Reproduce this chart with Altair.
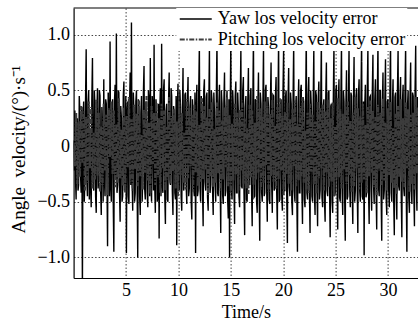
import altair as alt
import pandas as pd

YAW_STEP = 0.06    # s between yaw samples
PITCH_STEP = 0.12  # s between pitching samples

yaw = [
    0.05, -0.22, 0.32, -0.3, -0.48, 0.18, 0.25, -0.4, -0.35, 0.45, 0.3, -0.25, -0.42, 0.35, -1.3, 0.2, 0.4, -0.5, -0.3, 0.42,
    0.87, -0.3, -0.45, 0.38, 0.5, -0.48, 0.12, -0.35, -0.55, 0.42, 0.79, -0.28, -0.4, 0.5, 0.35, -0.45, -0.6, 0.3, 0.52, -0.38,
    -0.3, 0.5, 0.45, -0.4, -0.62, 0.35, 0.2, -0.5, 0.6, -0.3, -0.45, 0.42, 0.38, -0.25, -0.9, 0.48, 0.3, -0.45, 0.94, -0.35,
    -0.5, 0.3, 0.42, -0.48, -0.95, 0.4, 0.55, -0.3, 1.01, -0.42, -0.35, 0.5, 0.48, -0.4, -0.68, 0.36, 0.25, -0.5, -0.45, 0.45,
    0.58, -0.4, -0.3, 0.45, -0.96, 0.3, 0.4, -0.45, -0.52, 0.38, 0.66, -0.35, 1.11, -0.3, -0.58, 0.48, 0.3, -0.5, -0.42, 0.4,
    0.5, -0.35, -1.0, 0.42, 0.35, -0.45, -0.62, 0.3, 0.45, -0.5, -0.3, 0.48, 0.72, -0.38, -0.48, 0.4, 0.2, -0.42, -0.55, 0.5,
    0.4, -0.45, 0.79, -0.3, -0.5, 0.45, 0.35, -0.4, 0.91, -0.35, -0.6, 0.42, 0.28, -0.5, -0.45, 0.38, -0.83, 0.3, 0.52, -0.45,
    0.92, -0.35, -0.42, 0.5, 0.6, -0.45, -0.7, 0.32, 0.38, -0.48, -0.5, 0.4, 0.66, -0.3, -0.35, 0.52, 0.45, -0.4, -0.62, 0.36,
    0.3, -0.42, -0.48, 0.45, -0.89, 0.35, 0.56, -0.38, -0.4, 0.5, 0.35, -0.45, -0.58, 0.3, 0.7, -0.4, -0.3, 0.46, 0.48, -0.35,
    -0.52, 0.4, 0.62, -0.45, -0.38, 0.35, 0.45, -0.5, -0.66, 0.42, 0.3, -0.38, -0.45, 0.48, -0.96, 0.32, 0.55, -0.45, -0.4, 0.5,
    0.9, -0.38, -0.5, 0.45, 0.35, -0.4, -0.72, 0.5, 0.6, -0.32, -0.4, 0.44, 0.48, -0.46, -0.58, 0.36, 0.88, -0.42, -0.35, 0.5,
    0.42, -0.4, -0.62, 0.48, 0.3, -0.35, -0.5, 0.45, 0.95, -0.42, -0.45, 0.38, 0.55, -0.3, -0.78, 0.5, 0.38, -0.44, -0.52, 0.4,
    0.66, -0.45, -0.4, 0.36, 0.5, -0.48, -0.65, 0.42, -1.0, 0.3, 0.92, -0.4, -0.48, 0.5, 0.35, -0.38, -0.7, 0.45, 0.58, -0.42,
    -0.42, 0.48, 0.3, -0.45, -0.55, 0.4, 0.87, -0.36, -0.38, 0.5, 0.62, -0.42, -0.8, 0.35, 0.45, -0.48, -0.5, 0.4, 0.7, -0.32,
    -0.35, 0.45, 0.52, -0.4, -0.72, 0.38, 0.98, -0.46, -0.45, 0.42, 0.4, -0.5, -0.6, 0.35, 0.66, -0.38, -0.85, 0.48, 0.38, -0.42,
    -0.5, 0.36, 0.9, -0.45, -0.42, 0.5, 0.55, -0.38, -0.68, 0.44, 0.35, -0.48, -0.52, 0.4, 0.75, -0.35, -0.6, 0.46, 0.45, -0.4,
    -0.38, 0.45, 0.62, -0.42, -0.75, 0.38, 0.95, -0.5, -0.48, 0.36, 0.42, -0.45, -0.58, 0.5, 0.88, -0.4, -0.4, 0.44, 0.5, -0.48,
    -0.87, 0.4, 0.7, -0.36, -0.45, 0.48, 0.38, -0.5, -0.62, 0.42, 0.92, -0.4, -0.5, 0.35, 0.45, -0.46, -0.95, 0.38, 0.6, -0.42,
    -0.42, 0.5, 0.55, -0.38, -0.7, 0.44, 0.4, -0.48, -0.55, 0.36, 1.0, -0.42, -0.48, 0.46, 0.62, -0.4, -0.78, 0.5, 0.35, -0.45,
    -0.5, 0.38, 0.88, -0.44, -0.62, 0.5, 0.45, -0.36, -0.72, 0.42, 0.58, -0.48, -0.4, 0.4, 0.95, -0.46, -0.55, 0.35, 0.42, -0.5,
    -0.68, 0.44, 0.75, -0.4, -0.45, 0.48, 0.5, -0.38, -0.82, 0.36, 0.38, -0.5, -0.6, 0.42, 0.9, -0.45, -0.42, 0.5, 0.55, -0.36,
    -0.75, 0.42, 0.6, -0.46, -0.5, 0.38, 0.92, -0.4, -0.62, 0.5, 0.4, -0.44, -0.85, 0.36, 0.68, -0.48, -0.45, 0.4, 0.88, -0.38,
    -0.55, 0.48, 0.45, -0.42, -0.7, 0.36, 0.8, -0.5, -0.4, 0.44, 0.52, -0.38, -0.78, 0.46, 0.6, -0.4, -0.5, 0.42, 0.96, -0.45,
    -0.48, 0.4, -0.98, 0.36, 0.55, -0.46, -0.42, 0.5, 0.88, -0.38, -0.7, 0.44, 0.45, -0.4, -0.58, 0.48, 0.82, -0.35, -0.52, 0.42,
    0.6, -0.4, -0.75, 0.45, 0.92, -0.38, -0.45, 0.5, 0.5, -0.44, -0.85, 0.36, 0.66, -0.48, -0.4, 0.42, 0.78, -0.46, -0.62, 0.4,
    0.42, -0.38, -0.55, 0.46, 0.95, -0.42, -0.5, 0.36, 0.6, -0.48, -0.8, 0.44, 0.48, -0.4, -0.66, 0.5, 0.87, -0.36, -0.4, 0.45,
    0.62, -0.44, -0.82, 0.4, 0.55, -0.38, -0.45, 0.5, 0.9, -0.42, -0.95, 0.36, 0.5, -0.46, -0.6, 0.44, 0.75, -0.4, -0.52, 0.48,
    0.45, -0.4, -0.72, 0.5, 0.9, -0.36, -0.58, 0.44, 0.4, -0.48, -0.66, 0.38, 0.8, -0.42, -0.45, 0.46, 0.6, -0.5, -0.62, 0.4,
]

pitch = [
    0.02, -0.18, 0.3, -0.34, 0.22, -0.28, 0.36, -0.15, 0.31, -0.4,
    0.26, -0.33, 0.4, -0.2, 0.35, -0.38, 0.12, -0.3, 0.42, -0.27,
    0.3, -0.41, 0.18, -0.35, 0.38, -0.22, 0.28, -0.44, 0.34, -0.1,
    0.4, -0.25, 0.32, -0.37, 0.2, -0.33, 0.43, -0.29, 0.15, -0.36,
    0.35, -0.42, 0.27, -0.19, 0.44, -0.32, 0.24, -0.4, 0.37, -0.21,
    0.29, -0.36, 0.41, -0.27, 0.1, -0.39, 0.33, -0.24, 0.45, -0.31,
    0.21, -0.43, 0.36, -0.16, 0.3, -0.35, 0.39, -0.28, 0.25, -0.42,
    0.38, -0.2, 0.32, -0.4, 0.17, -0.3, 0.44, -0.34, 0.27, -0.23,
    0.33, -0.38, 0.22, -0.45, 0.4, -0.26, 0.3, -0.33, 0.12, -0.39,
    0.42, -0.29, 0.35, -0.18, 0.28, -0.41, 0.37, -0.24, 0.31, -0.36,
    0.19, -0.32, 0.43, -0.3, 0.36, -0.21, 0.26, -0.44, 0.34, -0.27,
    0.4, -0.37, 0.15, -0.33, 0.39, -0.25, 0.32, -0.4, 0.23, -0.3,
    0.35, -0.19, 0.44, -0.36, 0.28, -0.42, 0.2, -0.31, 0.38, -0.26,
    0.3, -0.4, 0.33, -0.22, 0.41, -0.34, 0.25, -0.38, 0.16, -0.43,
    0.37, -0.28, 0.32, -0.35, 0.21, -0.3, 0.45, -0.24, 0.34, -0.39,
    0.26, -0.33, 0.4, -0.17, 0.36, -0.41, 0.29, -0.27, 0.42, -0.32,
    0.18, -0.38, 0.35, -0.3, 0.43, -0.22, 0.27, -0.44, 0.31, -0.25,
    0.39, -0.34, 0.24, -0.4, 0.33, -0.18, 0.41, -0.36, 0.2, -0.31,
    0.36, -0.27, 0.44, -0.33, 0.14, -0.39, 0.3, -0.42, 0.38, -0.23,
    0.28, -0.35, 0.22, -0.43, 0.4, -0.29, 0.34, -0.2, 0.37, -0.4,
    0.31, -0.24, 0.42, -0.37, 0.25, -0.32, 0.39, -0.45, 0.17, -0.3,
    0.43, -0.28, 0.33, -0.38, 0.29, -0.21, 0.36, -0.34, 0.4, -0.26,
    0.23, -0.41, 0.3, -0.36, 0.44, -0.2, 0.34, -0.39, 0.27, -0.33,
    0.38, -0.3, 0.19, -0.42, 0.35, -0.27, 0.41, -0.24, 0.32, -0.37,
    0.26, -0.44, 0.37, -0.22, 0.3, -0.35, 0.43, -0.31, 0.21, -0.4,
    0.34, -0.26, 0.4, -0.33, 0.16, -0.38, 0.29, -0.43, 0.36, -0.28,
    0.42, -0.32, 0.25, -0.37, 0.39, -0.2, 0.33, -0.41, 0.28, -0.34,
    0.3, -0.39, 0.44, -0.25, 0.35, -0.3, 0.22, -0.42, 0.38, -0.29,
]

series_names = ["Yaw los velocity error", "Pitching los velocity error"]
series_colors = ["#000000", "#3c3c3c"]
series_dashes = [[1, 0], [5, 1.5, 1.5, 1.5]]
series_widths = [1.4, 2.2]
x_ticks = [5, 10, 15, 20, 25, 30]
y_ticks = [-1.0, -0.5, 0, 0.5, 1.0]

rows = []
for i, v in enumerate(yaw):
    rows.append({"t": i * YAW_STEP, "v": v, "s": series_names[0], "i": i})
for i, v in enumerate(pitch):
    rows.append({"t": i * PITCH_STEP, "v": v, "s": series_names[1], "i": i})
df = pd.DataFrame(rows)

FONT = "Liberation Serif"
FS = 18

x = alt.X("t:Q", scale=alt.Scale(domain=[0, 32.86], nice=False, zero=False),
          axis=alt.Axis(values=x_ticks, title="Time/s", format="d",
                        labelFont=FONT, labelFontSize=FS, titleFont=FONT, titleFontSize=FS,
                        labelPadding=3, titlePadding=4))
y = alt.Y("v:Q", scale=alt.Scale(domain=[-1.185, 1.24], nice=False),
          axis=alt.Axis(values=y_ticks, title="Angle\u00a0\u00a0velocity/(°)·s⁻¹",
                        labelExpr="datum.value == 0 ? '0' : format(datum.value, '.1f')",
                        labelFont=FONT, labelFontSize=FS, titleFont=FONT, titleFontSize=19,
                        labelPadding=4, titlePadding=8, titleY=141))

lines = alt.Chart(df).mark_line(clip=True).encode(
    x=x, y=y,
    color=alt.Color("s:N", scale=alt.Scale(domain=series_names, range=series_colors),
                    legend=alt.Legend(title=None)),
    strokeDash=alt.StrokeDash("s:N", scale=alt.Scale(domain=series_names, range=series_dashes),
                              legend=alt.Legend(title=None)),
    strokeWidth=alt.StrokeWidth("s:N", scale=alt.Scale(domain=series_names, range=series_widths),
                                legend=None),
    order="i:Q",
)

top_edge = alt.Chart(pd.DataFrame({"edge": [0]})).mark_rule(color="black", strokeWidth=1.2).encode(
    y=alt.value(0)
)

chart = alt.layer(lines, top_edge).properties(
    width=344.4, height=270,
    autosize=alt.AutoSizeParams(type="none"),
    padding={"left": 73.6, "top": 8, "right": 0, "bottom": 49},
    background="white",
).configure_view(stroke=None).configure_axis(
    labelColor="black", titleColor="black", titleFontWeight="normal",
    grid=True, gridColor="#444444", gridDash=[1.5, 2], gridWidth=1,
    ticks=False, domain=True, domainColor="black", domainWidth=1.2,
).configure_legend(
    orient="none", legendX=102.65, legendY=0, fillColor="white", padding=2,
    labelFont=FONT, labelFontSize=FS, labelColor="black", labelLimit=0,
    symbolType="M-1,0L3,0", symbolSize=256, symbolStrokeWidth=1.5, labelOffset=20.5,
    rowPadding=2,
)

chart.save("out.html", embed_options={"renderer": "svg", "actions": False})
